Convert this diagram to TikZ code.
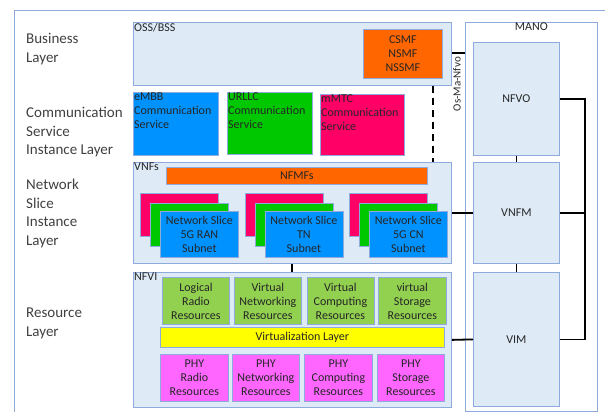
\documentclass[tikz,border=0pt]{standalone}
\usepackage{fontspec}
\setmainfont{Carlito}
\definecolor{bord}{HTML}{8FAADC}
\definecolor{lightb}{HTML}{DEEBF7}
\definecolor{txt}{HTML}{262626}
\definecolor{lbl}{HTML}{404040}
\definecolor{orng}{HTML}{FF6600}
\definecolor{cblue}{HTML}{0092FF}
\definecolor{cgreen}{HTML}{00C800}
\definecolor{cpink}{HTML}{FF0066}
\definecolor{rgreen}{HTML}{92D050}
\definecolor{ryellow}{HTML}{FFFF00}
\definecolor{rmag}{HTML}{FF66FF}
\begin{document}
\begin{tikzpicture}[x=1pt,y=-1pt,
  box/.style={draw=bord, line width=0.8pt, inner sep=0pt, anchor=north west, align=center,
    font=\fontsize{12}{14}\selectfont, text=txt},
  tl/.style={anchor=north west, inner sep=1pt, align=left, font=\fontsize{12}{14}\selectfont, text=txt},
  layer/.style={anchor=north west, inner sep=0pt, align=left, font=\fontsize{15}{18.5}\selectfont, text=lbl},
  link/.style={line width=1.8pt, black},
  thinlink/.style={line width=0.8pt, black}]
\useasboundingbox (0,0) rectangle (605,412);
% outer frame
\coordinate (fa) at (14,415);
\coordinate (fb) at (14,10);
\coordinate (fc) at (608,10);
\draw[bord, line width=0.8pt] (fa) -- (fb) -- (fc);

% layer labels
\node[layer] (l1) at (26,33) {Business\\Layer};
\node[layer] (l2) at (26,107) {Communication\\Service\\Instance Layer};
\node[layer] (l3) at (26,179) {Network\\Slice\\Instance\\Layer};
\node[layer] (l4) at (26,308) {Resource\\Layer};

% business layer
\node[box, fill=lightb, minimum width=318, minimum height=63] (oss) at (133,22) {};
\node[tl] at (oss.north west) {OSS/BSS};
\node[box, fill=orng, minimum width=79, minimum height=49] (csmf) at (363,29) {CSMF\\NSMF\\NSSMF};

% communication services
\node[box, fill=cblue, minimum width=85, minimum height=63] (embb) at (133,92) {};
\node[tl] at (embb.north west) {eMBB\\Communication\\Service};
\node[box, fill=cgreen, minimum width=85, minimum height=62] (urllc) at (227,92) {};
\node[tl] at (urllc.north west) {URLLC\\Communication\\Service};
\node[box, fill=cpink, minimum width=84, minimum height=61] (mmtc) at (320,94) {};
\node[tl] at (mmtc.north west) {mMTC\\Communication\\Service};

% VNFs
\node[box, fill=lightb, minimum width=318, minimum height=101] (vnfs) at (133,162) {};
\node[tl] at (vnfs.north west) {VNFs};
\node[box, fill=orng, minimum width=261, minimum height=17] (nfmf) at (166,167) {NFMFs};

\foreach \x/\n/\t in {140/a/5G RAN, 244.5/b/TN, 349/c/5G CN}{
  \node[box, fill=cpink, minimum width=78, minimum height=43] (p\n) at (\x,193) {};
  \node[box, fill=cgreen, minimum width=78, minimum height=43] (g\n) at (\x+10,203) {};
  \node[box, fill=cblue, minimum width=78, minimum height=46] (b\n) at (\x+20,211) {Network Slice\\\t\\Subnet};
}

% NFVI
\node[box, fill=lightb, minimum width=318, minimum height=135] (nfvi) at (133,272) {};
\node[tl] at (nfvi.north west) {NFVI};
\node[box, fill=rgreen, minimum width=67, minimum height=47] (r1) at (162,277) {Logical\\Radio\\Resources};
\node[box, fill=rgreen, minimum width=67, minimum height=47] (r2) at (234,277) {Virtual\\Networking\\Resources};
\node[box, fill=rgreen, minimum width=67, minimum height=47] (r3) at (306.5,277) {Virtual\\Computing\\Resources};
\node[box, fill=rgreen, minimum width=68, minimum height=47] (r4) at (378,277) {virtual\\Storage\\Resources};
\node[box, fill=ryellow, minimum width=284, minimum height=20] (virt) at (160,327) {Virtualization Layer};
\node[box, fill=rmag, minimum width=68, minimum height=47] (h1) at (160,354) {PHY\\Radio\\Resources};
\node[box, fill=rmag, minimum width=67, minimum height=47] (h2) at (232,354) {PHY\\Networking\\Resources};
\node[box, fill=rmag, minimum width=68, minimum height=47] (h3) at (304,354) {PHY\\Computing\\Resources};
\node[box, fill=rmag, minimum width=67, minimum height=47] (h4) at (377,354) {PHY\\Storage\\Resources};

% MANO
\node[box, draw=bord, fill=white, minimum width=132, minimum height=389] (mano) at (465,22) {};
\node[anchor=north, inner sep=1pt, font=\fontsize{12}{14}\selectfont, text=txt] at (mano.north) {MANO};
\node[box, fill=lightb, minimum width=86, minimum height=113] (nfvo) at (473,42) {NFVO};
\node[box, fill=lightb, minimum width=86, minimum height=101] (vnfm) at (473,162) {VNFM};
\node[box, fill=lightb, minimum width=86, minimum height=134] (vim) at (473,272) {VIM};

% connectors
\draw[link] (oss.east |- 0,53) -- (mano.west |- 0,53);
\node[rotate=90, inner sep=0pt, font=\fontsize{11}{13}\selectfont, text=txt] (osma) at (457,84) {Os-Ma-Nfvo};
\coordinate (dx) at (433,0);
\draw[link, dash pattern=on 7pt off 5pt] (oss.south -| dx) -- (vnfs.north -| dx);
\coordinate (lx) at (292,0);
\draw[thinlink, line width=1.4pt] (vnfs.south -| lx) -- (nfvi.north -| lx);
\draw[thinlink] (nfvo.south) -- (vnfm.north);
\draw[thinlink] (vnfm.south) -- (vim.north);
\draw[link] (vnfs.east) -- (vnfm.west);
\draw[link] (nfvi.east) -- (vim.west);
\coordinate (bx) at (585,0);
\draw[link] (nfvo.east) -- (nfvo.east -| bx) -- (vim.east -| bx) -- (vim.east);
\draw[link] (vnfm.east) -- (vnfm.east -| bx);
\end{tikzpicture}
\end{document}
